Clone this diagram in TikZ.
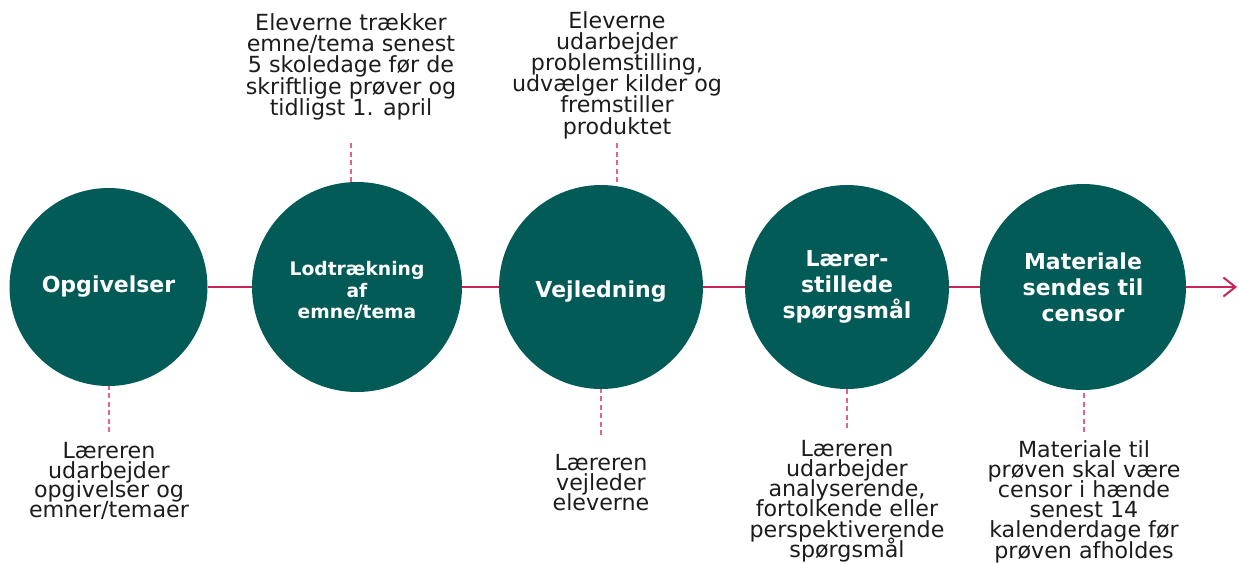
\documentclass[tikz,border=0pt]{standalone}
\usepackage{fontspec}
\setmainfont{DejaVu Sans}
\usetikzlibrary{arrows.meta}
\definecolor{teal1}{HTML}{035B57}
\definecolor{crim}{HTML}{C8245E}
\definecolor{pinkd}{HTML}{E0648E}
\definecolor{txt}{HTML}{1C1C1C}
\newcommand\stageFont{\bfseries\fontsize{22}{26}\selectfont\lineskiplimit=-30pt\relax}
\newcommand\smallStageFont{\bfseries\fontsize{18.7}{21.5}\selectfont\lineskiplimit=-30pt\relax}
\newcommand\noteFont{\fontsize{22.2}{20.2}\selectfont\lineskiplimit=-30pt\relax}
\newcommand\leftNoteFont{\fontsize{22.2}{19.8}\selectfont\lineskiplimit=-30pt\relax}
\newcommand\topNoteFont{\fontsize{22.2}{21.2}\selectfont\lineskiplimit=-30pt\relax}
\begin{document}
\begin{tikzpicture}[x=1pt,y=-1pt,
  stage/.style={circle,fill=teal1,draw=none,inner sep=0pt,text=white,align=center,font=\stageFont},
  stagetext/.style={inner sep=0pt,text=white,align=center,font=\stageFont},
  note/.style={inner sep=0pt,align=center,text=txt,font=\noteFont},
  topnote/.style={note,font=\topNoteFont},
  mainline/.style={draw=crim,line width=2pt},
  pinkdash/.style={draw=pinkd,line width=1.4pt,dash pattern=on 5pt off 3.5pt}]
\useasboundingbox (0,0) rectangle (1239,563);
% stages
\node[stage,minimum size=198pt] (c1) at (108.5,287) {Opgivelser};
\node[stage,minimum size=210pt] (c2) at (357,287) {};
\node[stagetext,font=\smallStageFont] (c2t) at (357,291) {Lodtrækning\\af\\emne/tema};
\node[stage,minimum size=204pt] (c3) at (601,287) {};
\node[stagetext] (c3t) at (601,291.5) {Vejledning};
\node[stage,minimum size=204pt] (c4) at (847,287) {Lærer-\\stillede\\spørgsmål};
\node[stage,minimum size=206pt] (c5) at (1083,287) {Materiale\\sendes til\\censor};
\coordinate (aend) at (1237,287);
% main line
\draw[mainline] (c1.east) -- (c2.west);
\draw[mainline] (c2.east) -- (c3.west);
\draw[mainline] (c3.east) -- (c4.west);
\draw[mainline] (c4.east) -- (c5.west);
\draw[mainline,-{Straight Barb[length=12pt,width=19pt]}] (c5.east) -- (aend);
% notes
\node[note,font=\leftNoteFont,anchor=north] (n1) at (109,442) {Læreren\\udarbejder\\opgivelser og\\emner/temaer};
\node[topnote,anchor=north] (n2) at (351,13.5) {Eleverne trækker\\emne/tema senest\\5 skoledage før de\\skriftlige prøver og\\tidligst 1. april};
\node[topnote,anchor=north] (n3) at (617,11) {Eleverne\\udarbejder\\problemstilling,\\udvælger kilder og\\fremstiller\\produktet};
\node[note,anchor=north] (n4) at (601,454) {Læreren\\vejleder\\eleverne};
\node[note,anchor=north] (n5) at (847,440) {Læreren\\udarbejder\\analyserende,\\fortolkende eller\\perspektiverende\\spørgsmål};
\node[note,anchor=north] (n6) at (1084,440) {Materiale til\\prøven skal være\\censor i hænde\\senest 14\\kalenderdage før\\prøven afholdes};
% dashed connectors
\coordinate (d1) at (109,432);
\coordinate (d2) at (351,143);
\coordinate (d3) at (617,143);
\coordinate (d4) at (601,435);
\coordinate (d5) at (847,428);
\coordinate (d6) at (1084,432);
\draw[pinkdash] (d1) -- (d1 |- c1.south);
\draw[pinkdash] (d2) -- (d2 |- c2.north);
\draw[pinkdash] (d3) -- (d3 |- c3.north);
\draw[pinkdash] (d4) -- (d4 |- c3.south);
\draw[pinkdash] (d5) -- (d5 |- c4.south);
\draw[pinkdash] (d6) -- (d6 |- c5.south);
\end{tikzpicture}
\end{document}
